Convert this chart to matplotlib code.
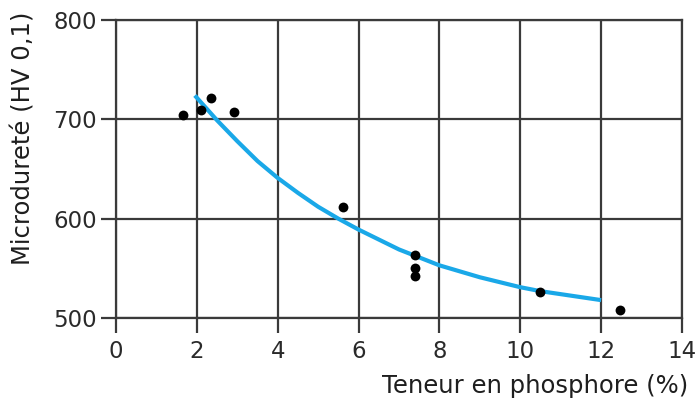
import matplotlib
matplotlib.use("Agg")
import matplotlib.pyplot as plt

# Measured points
phos = [1.66, 2.1, 2.35, 2.92, 5.61, 7.4, 7.4, 7.4, 10.5, 12.47]
hv = [704, 709, 721, 707, 612, 563, 550, 542, 526, 508]

# Fitted curve
curve_x = [1.95, 2.5, 3, 3.5, 4, 4.5, 5, 5.5, 6, 6.5, 7, 7.5, 8, 8.5, 9, 9.5, 10, 10.5, 11, 11.5, 12]
curve_y = [724, 699, 678, 658, 641, 626, 612, 600, 589, 579, 569, 561, 553, 547, 541, 536, 531, 527, 524, 521, 518]

xticks = [0, 2, 4, 6, 8, 10, 12, 14]
yticks = [500, 600, 700, 800]

plt.rcParams['font.family'] = ['DejaVu Sans']

fig = plt.figure(figsize=(7.0, 4.03), dpi=100)
ax = fig.add_axes([116/700, 1-318/403, (682-116)/700, (318-20)/403])

gc = '#3a3a3a'
ax.plot(curve_x, curve_y, color='#1aa8e8', lw=3.0, solid_capstyle='butt', zorder=3)
ax.scatter(phos, hv, s=50, color='black', zorder=4, linewidths=0)

ax.set_xlim(0, 14)
ax.set_ylim(500, 800)
ax.set_xticks(xticks)
ax.set_yticks(yticks)
ax.grid(True, color=gc, lw=1.6)
ax.set_axisbelow(True)
for s in ax.spines.values():
    s.set_color(gc)
    s.set_linewidth(1.6)
ax.tick_params(direction='out', length=11, width=1.6, color=gc,
               labelsize=16.5, labelcolor='#2a2a2a')
ax.tick_params(axis='y', pad=3)
ax.tick_params(axis='x', pad=5)

ax.set_xlabel('Teneur en phosphore (%)', fontsize=17.5, color='#1e1e1e', ha='right')
ax.xaxis.set_label_coords((688-116)/566, -(398-318)/298)
ax.set_ylabel('Microdureté (HV 0,1)', fontsize=17.5, color='#1e1e1e')
ax.yaxis.set_label_coords(-(116-12)/566, (318-138)/298)
ax.xaxis.label.set_va('bottom')
ax.yaxis.label.set_va('top')

fig.savefig('out.png', dpi=100, facecolor='white')
